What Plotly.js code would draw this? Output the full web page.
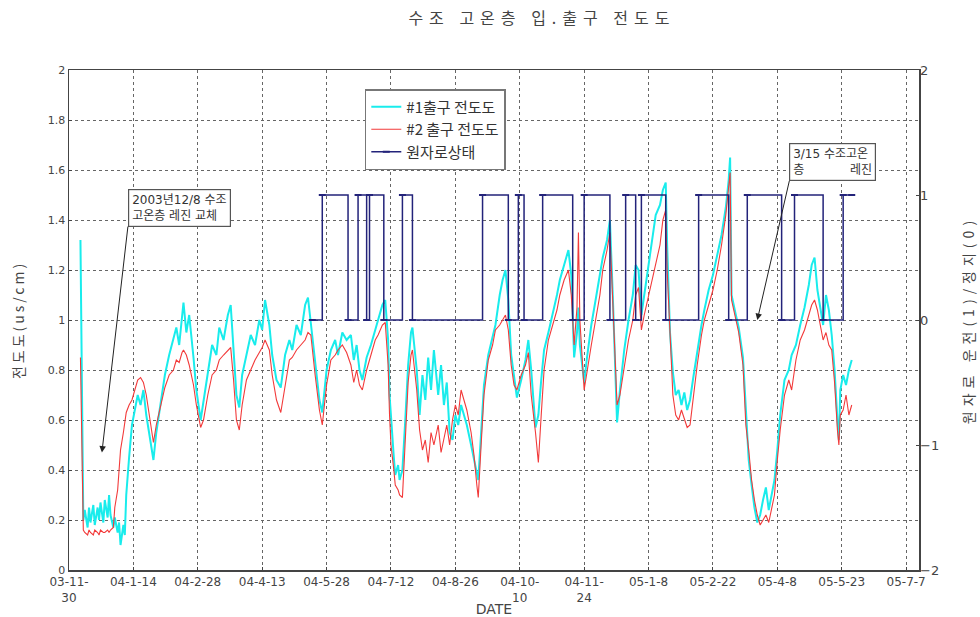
<!DOCTYPE html>
<html>
<head>
<meta charset="utf-8">
<script src="https://cdn.plot.ly/plotly-3.0.1.min.js"></script>
<style>
html,body{margin:0;padding:0;background:#fff}
#chart{width:980px;height:617px}
#chart .gtitle{letter-spacing:6px}
#chart .g-ytitle text{letter-spacing:3px}
#chart .g-y2title text{letter-spacing:5px}
</style>
</head>
<body>
<div id="chart"></div>
<script>
// ---- data ----
const startDate = '2003-11-30';
const tickDates = ['2003-11-30','2004-01-14','2004-02-28','2004-04-13','2004-05-28','2004-07-12','2004-08-26','2004-10-10','2004-11-24','2005-01-08','2005-02-22','2005-04-08','2005-05-23','2005-07-07'];
const tickLabels = ['03-11-<br>30','04-1-14','04-2-28','04-4-13','04-5-28','04-7-12','04-8-26','04-10-<br>10','04-11-<br>24','05-1-8','05-2-22','05-4-8','05-5-23','05-7-7'];

// days since startDate
const days = [8,10,11,13,14,15,17,18,20,21,22,24,25,27,28,29,31,32,34,35,36,38,39,40,42,44,46,48,50,52,54,56,58,59,61,64,67,70,73,75,77,79,80,82,84,87,89,92,94,97,100,103,105,108,111,113,115,117,119,121,124,127,130,133,135,137,140,142,145,148,151,154,156,159,162,165,167,169,172,175,177,180,183,186,188,191,194,197,199,201,203,205,208,211,214,216,219,221,223,224,225,227,228,230,231,233,235,237,239,240,243,245,247,249,251,253,255,258,260,262,264,266,268,270,272,274,276,278,281,283,285,286,288,290,293,296,298,301,303,305,307,309,311,313,316,319,321,323,326,328,330,332,335,338,341,343,346,349,351,353,355,356,357,360,362,365,368,371,373,376,378,380,382,383,385,388,391,394,396,398,400,402,405,408,410,413,415,417,418,420,422,424,426,428,430,432,434,436,439,442,444,447,450,453,456,459,461,462,463,466,468,471,473,475,477,479,481,483,485,487,489,491,493,495,497,500,503,505,508,511,514,517,519,521,523,525,527,529,531,533,535,537,538,539,541,543,545,547];

const outlet1 = [1.32,0.20,0.24,0.17,0.25,0.19,0.26,0.18,0.25,0.20,0.27,0.19,0.28,0.21,0.30,0.22,0.17,0.21,0.15,0.19,0.10,0.18,0.14,0.30,0.45,0.58,0.64,0.70,0.66,0.72,0.62,0.55,0.48,0.44,0.55,0.66,0.78,0.86,0.92,0.97,0.90,1.02,1.07,0.95,1.02,0.85,0.72,0.60,0.68,0.80,0.90,0.86,0.97,0.92,1.02,1.06,0.88,0.70,0.65,0.78,0.86,0.94,0.90,1.00,0.96,1.08,0.98,0.86,0.76,0.73,0.86,0.92,0.88,0.98,0.94,1.06,1.09,0.98,0.82,0.68,0.63,0.80,0.88,0.92,0.86,0.95,0.92,0.94,0.84,0.90,0.80,0.76,0.85,0.90,0.96,1.00,1.06,1.08,0.92,0.70,0.60,0.45,0.38,0.42,0.36,0.40,0.60,0.82,0.95,0.97,0.80,0.62,0.78,0.68,0.85,0.72,0.88,0.70,0.82,0.66,0.75,0.55,0.52,0.62,0.58,0.66,0.62,0.58,0.50,0.44,0.38,0.36,0.55,0.74,0.86,0.94,0.98,1.10,1.16,1.20,1.08,0.86,0.78,0.69,0.76,0.84,0.92,0.80,0.57,0.62,0.76,0.88,0.95,1.02,1.10,1.16,1.22,1.28,1.18,0.85,0.95,1.05,0.90,0.75,0.85,0.98,1.08,1.18,1.25,1.32,1.40,1.10,0.80,0.59,0.72,0.88,1.00,1.10,1.22,1.20,1.02,1.10,1.24,1.34,1.42,1.46,1.52,1.55,1.30,0.95,0.79,0.70,0.72,0.66,0.71,0.64,0.68,0.76,0.88,0.98,1.04,1.12,1.18,1.26,1.34,1.45,1.56,1.65,1.10,1.02,0.97,0.85,0.62,0.44,0.34,0.25,0.19,0.22,0.28,0.33,0.24,0.30,0.36,0.48,0.62,0.76,0.80,0.86,0.90,0.98,1.05,1.14,1.22,1.25,1.12,1.05,0.98,1.10,1.04,0.94,0.80,0.60,0.52,0.72,0.78,0.74,0.80,0.84];

const outlet2 = [0.85,0.16,0.15,0.14,0.16,0.15,0.14,0.16,0.15,0.14,0.16,0.15,0.15,0.16,0.15,0.16,0.17,0.25,0.32,0.40,0.48,0.55,0.60,0.63,0.66,0.68,0.72,0.76,0.77,0.75,0.70,0.62,0.55,0.51,0.58,0.66,0.73,0.78,0.80,0.84,0.83,0.87,0.88,0.86,0.82,0.74,0.66,0.57,0.60,0.70,0.78,0.80,0.84,0.86,0.88,0.89,0.76,0.60,0.56,0.66,0.76,0.80,0.84,0.87,0.89,0.92,0.88,0.78,0.68,0.63,0.74,0.84,0.85,0.88,0.90,0.92,0.95,0.94,0.78,0.64,0.58,0.74,0.84,0.86,0.88,0.90,0.87,0.82,0.75,0.80,0.74,0.72,0.80,0.86,0.92,0.94,0.98,0.99,0.82,0.62,0.50,0.40,0.34,0.32,0.30,0.29,0.55,0.75,0.86,0.88,0.72,0.56,0.48,0.52,0.43,0.55,0.50,0.58,0.47,0.52,0.58,0.50,0.60,0.66,0.62,0.72,0.68,0.64,0.55,0.46,0.34,0.29,0.50,0.70,0.84,0.90,0.96,0.98,1.00,1.02,0.96,0.82,0.74,0.72,0.78,0.82,0.87,0.70,0.55,0.43,0.62,0.80,0.92,0.98,1.04,1.10,1.16,1.20,1.10,0.90,1.05,1.35,1.00,0.72,0.80,0.90,1.00,1.10,1.20,1.28,1.35,1.05,0.80,0.66,0.70,0.82,0.92,1.00,1.10,1.13,0.96,1.02,1.10,1.18,1.22,1.30,1.40,1.44,1.20,0.95,0.70,0.62,0.60,0.64,0.60,0.57,0.58,0.68,0.82,0.94,1.00,1.06,1.12,1.20,1.30,1.42,1.52,1.59,1.08,1.00,0.95,0.82,0.58,0.48,0.36,0.28,0.22,0.18,0.20,0.22,0.19,0.24,0.30,0.44,0.56,0.70,0.76,0.72,0.84,0.92,0.96,1.02,1.06,1.08,1.04,0.98,0.92,0.95,0.90,0.88,0.75,0.56,0.50,0.62,0.64,0.70,0.62,0.66];

// reactor state (1 = operating, 0 = shutdown), day of each change
const stateDays  = [170,177,195,202,208,210,220,233,240,289,307,314,318,331,352,360,378,389,396,400,417,440,461,474,498,507,527,541,547];
const stateValue = [0,1,0,1,0,1,0,1,0,1,0,1,0,1,0,1,0,1,0,1,0,1,0,1,0,1,0,1,1];

const seriesNames = ['#1출구 전도도','#2 출구 전도도','원자로상태'];
const titleText = '수조 고온층 입.출구 전도도';
const note1 = {day: 23, value: 0.47, text: '2003년12/8 수조<br>고온층 레진 교체'};
const note2 = {day: 481, value: 1.0, text: '3/15 수조고온<br>층\u00a0\u00a0\u00a0\u00a0\u00a0\u00a0\u00a0\u00a0\u00a0\u00a0\u00a0\u00a0레진'};

// ---- build ----
const t0 = Date.UTC(2003, 10, 30);
const toDate = d => new Date(t0 + d * 86400000).toISOString().slice(0, 10);
const xDates = days.map(toDate);
const kr = 'Noto Sans CJK KR, sans-serif';

const traces = [
  {x: xDates, y: outlet1, name: seriesNames[0], type: 'scatter', mode: 'lines',
   line: {color: '#19ecec', width: 2}},
  {x: xDates, y: outlet2, name: seriesNames[1], type: 'scatter', mode: 'lines',
   line: {color: '#f23a3a', width: 1.1}},
  {x: stateDays.map(toDate), y: stateValue, name: seriesNames[2], type: 'scatter', mode: 'lines+markers',
   yaxis: 'y2', line: {color: '#23237a', width: 1.5, shape: 'hv'},
   marker: {symbol: 'line-ew', size: 5, line: {color: '#23237a', width: 2}}}
];

const gridStyle = {gridcolor: '#666', griddash: '3px,3px', gridwidth: 1};
const noteStyle = {xref: 'x', yref: 'y', showarrow: true, xanchor: 'left', yanchor: 'bottom',
  align: 'left', bgcolor: '#fff', bordercolor: '#555', borderwidth: 1.2, borderpad: 3,
  arrowhead: 2, arrowsize: 1.3, arrowwidth: 1, arrowcolor: '#222',
  font: {size: 12, color: '#333', family: 'DejaVu Sans, Noto Sans CJK KR, sans-serif'}};
const layout = {
  width: 980, height: 617,
  margin: {l: 69, r: 61, t: 70, b: 47},
  paper_bgcolor: '#fff', plot_bgcolor: '#fff',
  font: {family: 'DejaVu Sans, Noto Sans CJK KR, sans-serif', size: 11, color: '#333'},
  title: {text: titleText, x: 0.553, xanchor: 'center', y: 0.97, yanchor: 'middle',
          font: {size: 16, color: '#444', family: kr}},
  showlegend: true,
  legend: {x: 0.348, y: 0.962, xanchor: 'left', yanchor: 'top', bgcolor: '#fff',
           bordercolor: '#777', borderwidth: 1.5,
           font: {size: 15, color: '#333', family: kr}, tracegroupgap: 0},
  xaxis: Object.assign({
    type: 'date', range: [startDate, '2005-07-16'],
    tickvals: tickDates, ticktext: tickLabels, tickangle: 0,
    showline: true, linecolor: '#444', linewidth: 1.5, mirror: true,
    ticks: 'inside', ticklen: 3, tickcolor: '#444',
    tickfont: {size: 12, color: '#444'},
    title: {text: 'DATE', standoff: 0, font: {size: 14, color: '#444'}},
    zeroline: false
  }, gridStyle),
  yaxis: Object.assign({
    range: [0, 2], dtick: 0.2, tick0: 0,
    showline: true, linecolor: '#444', linewidth: 1.5, mirror: true,
    ticks: 'inside', ticklen: 3, tickcolor: '#444',
    tickfont: {size: 11, color: '#444'},
    title: {text: '전도도(us/cm)', standoff: 20, font: {size: 14, color: '#444', family: kr}},
    zeroline: false
  }, gridStyle),
  yaxis2: {
    overlaying: 'y', side: 'right', range: [-2, 2], dtick: 1, tick0: 0,
    showgrid: false, zeroline: false, showline: false,
    ticks: 'inside', ticklen: 3, tickcolor: '#444',
    tickfont: {size: 13, color: '#444'},
    title: {text: '원자로 운전(1)/정지(0)', standoff: 26, font: {size: 14, color: '#444', family: kr}}
  },
  annotations: [
    Object.assign({x: toDate(note1.day), y: note1.value, text: note1.text, ax: 26, ay: -226}, noteStyle),
    Object.assign({x: toDate(note2.day), y: note2.value, text: note2.text, ax: 32, ay: -139}, noteStyle)
  ]
};

Plotly.newPlot('chart', traces, layout, {displayModeBar: false, staticPlot: true});
</script>
</body>
</html>
